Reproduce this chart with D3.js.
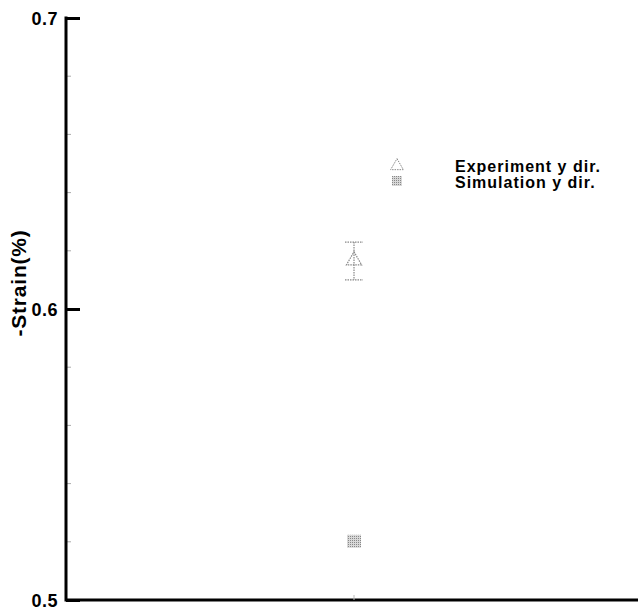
<!DOCTYPE html>
<html>
<head>
<meta charset="utf-8">
<script src="https://cdn.jsdelivr.net/npm/d3@7"></script>
<style>
  body { margin: 0; background: #fff; }
  text { font-family: "Liberation Sans", Arial, sans-serif; font-weight: bold; }
</style>
</head>
<body>
<div id="chart"></div>
<script>
// data
let seriesNames = ["Experiment y dir.", "Simulation y dir."];
let seriesX = [1, 1];
let seriesY = [0.617, 0.52];
let errLow = [0.610, null];
let errHigh = [0.623, null];
let majorTicks = [0.5, 0.6, 0.7];
let minorTicks = [0.52, 0.54, 0.56, 0.58, 0.62, 0.64, 0.66, 0.68];

let width = 638, height = 610;
let margin = {top: 18, right: 0, bottom: 10, left: 66};

let svg = d3.select("#chart").append("svg")
    .attr("width", width)
    .attr("height", height);

// hatched fill for the simulation square
let defs = svg.append("defs");
let pat = defs.append("pattern")
    .attr("id", "hatch")
    .attr("width", 2).attr("height", 2)
    .attr("patternUnits", "userSpaceOnUse");
pat.append("rect").attr("width", 2).attr("height", 2).attr("fill", "#d8d8d8");
pat.append("rect").attr("width", 1).attr("height", 1).attr("fill", "#888");

let x = d3.scaleLinear().domain([0, 2]).range([margin.left, 642]);
let y = d3.scaleLinear().domain([0.5, 0.7]).range([600, 18]);

// axes
let yAxis = d3.axisRight(y)
    .tickValues(majorTicks)
    .tickSize(14)
    .tickFormat("");
let yGroup = svg.append("g")
    .attr("transform", "translate(" + margin.left + ",0)")
    .call(yAxis);
yGroup.select(".domain").remove();
yGroup.selectAll(".tick line").attr("stroke", "#000").attr("stroke-width", 3);

svg.append("g")
    .selectAll("line")
    .data(minorTicks)
    .enter()
    .append("line")
    .attr("x1", margin.left)
    .attr("x2", margin.left + 5)
    .attr("y1", d => y(d))
    .attr("y2", d => y(d))
    .attr("stroke", "#aaa")
    .attr("stroke-width", 1);

svg.selectAll(".ylab")
    .data(majorTicks)
    .enter()
    .append("text")
    .attr("class", "ylab")
    .attr("x", 58)
    .attr("y", d => y(d) + 7)
    .attr("text-anchor", "end")
    .attr("font-size", 18)
    .attr("letter-spacing", 0.5)
    .text(d => d3.format(".1f")(d));

// axis lines
svg.append("line")
    .attr("x1", margin.left).attr("x2", margin.left)
    .attr("y1", y(0.7) - 1.5).attr("y2", y(0.5) + 1.5)
    .attr("stroke", "#000").attr("stroke-width", 3);
svg.append("line")
    .attr("x1", margin.left).attr("x2", width)
    .attr("y1", y(0.5)).attr("y2", y(0.5))
    .attr("stroke", "#000").attr("stroke-width", 3);

// small x tick
svg.append("line")
    .attr("x1", x(1)).attr("x2", x(1))
    .attr("y1", y(0.5) - 5).attr("y2", y(0.5))
    .attr("stroke", "#bbb").attr("stroke-width", 1);

svg.append("text")
    .attr("transform", "translate(26," + 283 + ") rotate(-90)")
    .attr("text-anchor", "middle")
    .attr("font-size", 21)
    .attr("letter-spacing", 0.8)
    .text("-Strain(%)");

// error bar
let eb = svg.append("g")
    .attr("stroke", "#888")
    .attr("stroke-width", 1.2)
    .attr("stroke-dasharray", "1.5,1");
eb.append("line")
    .attr("x1", x(seriesX[0])).attr("x2", x(seriesX[0]))
    .attr("y1", y(errHigh[0])).attr("y2", y(errLow[0]));
[errHigh[0], errLow[0]].forEach(v => {
    eb.append("line")
        .attr("x1", x(seriesX[0]) - 9).attr("x2", x(seriesX[0]) + 9)
        .attr("y1", y(v)).attr("y2", y(v));
});

// markers
let tri = d3.symbol().type(d3.symbolTriangle).size(100);
svg.append("path")
    .attr("d", tri())
    .attr("transform", "translate(" + x(seriesX[0]) + "," + (y(seriesY[0]) + 1) + ")")
    .attr("fill", "none")
    .attr("stroke", "#888")
    .attr("stroke-width", 1.2)
    .attr("stroke-dasharray", "1.5,1");

svg.append("rect")
    .attr("x", x(seriesX[1]) - 7)
    .attr("y", y(seriesY[1]) - 7)
    .attr("width", 14).attr("height", 13)
    .attr("fill", "url(#hatch)");

// legend
let legend = svg.append("g");
legend.append("path")
    .attr("d", d3.symbol().type(d3.symbolTriangle).size(70)())
    .attr("transform", "translate(397,166)")
    .attr("fill", "none")
    .attr("stroke", "#888")
    .attr("stroke-dasharray", "1.5,1");
legend.append("rect")
    .attr("x", 392).attr("y", 176)
    .attr("width", 10).attr("height", 10)
    .attr("fill", "url(#hatch)");
legend.selectAll(".leg")
    .data(seriesNames)
    .enter()
    .append("text")
    .attr("x", 455)
    .attr("y", (d, i) => 172 + i * 16)
    .attr("font-size", 16)
    .attr("letter-spacing", 1)
    .text(d => d);
</script>
</body>
</html>
